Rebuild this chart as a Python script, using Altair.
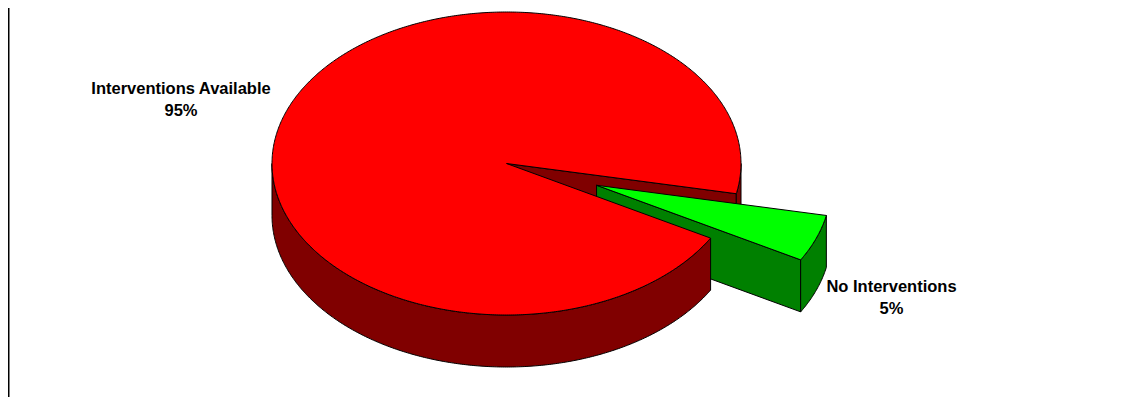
import math
import altair as alt
import pandas as pd

# ---- data ----
slice_names = ["No Interventions", "Interventions Available"]
slice_shares = [5, 95]
slice_pct_text = ["5%", "95%"]
top_colors = ["#00FF00", "#FF0000"]
side_colors = ["#008000", "#800000"]
exploded = [True, False]

# ---- layout (page pixel coordinates) ----
MARGIN = 8
W, H = 1133 - 2 * MARGIN, 405 - 2 * MARGIN
CX, CY = 506.5, 163.5      # centre of top ellipse
RX, RY = 234.5, 151.5      # radii of top ellipse
DEPTH = 52                 # thickness of the pie
START_DEG = 11.5           # parametric angle where first slice begins (clockwise on screen)
EXPLODE = 0.41             # explode distance as fraction of radius
label_pos = {              # centre x, baseline y of the label's first line
    "No Interventions": (891.5, 291.5),
    "Interventions Available": (181.0, 94.0),
}
LINE_GAP = 22
FONT = "Liberation Sans"
FONT_SIZE = 16.5


def pt(t_deg, off, z=0.0):
    t = math.radians(t_deg)
    return [CX + off[0] + RX * math.cos(t), CY + off[1] + RY * math.sin(t) + z]


def arc(a0, a1, off, z=0.0):
    n = max(2, int(abs(a1 - a0) / 0.5) + 1)
    return [pt(a0 + (a1 - a0) * i / (n - 1), off, z) for i in range(n)]


def poly(ring, fill, name):
    ring = ring + [ring[0]]
    return {"type": "Feature", "properties": {"fill": fill, "name": name},
            "geometry": {"type": "Polygon", "coordinates": [ring]}}


total = sum(slice_shares)
slices = []
cum = 0
for name, share, tc, sc, ex in zip(slice_names, slice_shares, top_colors, side_colors, exploded):
    a0 = START_DEG + 360 * cum / total
    a1 = START_DEG + 360 * (cum + share) / total
    cum += share
    midd = (a0 + a1) / 2
    mid = math.radians(midd)
    off = (EXPLODE * RX * math.cos(mid), EXPLODE * RY * math.sin(mid)) if ex else (0.0, 0.0)
    slices.append(dict(name=name, a0=a0, a1=a1, mid=midd, top=tc, side=sc, ex=ex, off=off))


def radius_faces(s):
    out = []
    c = [CX + s["off"][0], CY + s["off"][1]]
    for a, vis in ((s["a0"], math.cos(math.radians(s["a0"])) < 0),
                   (s["a1"], math.cos(math.radians(s["a1"])) > 0)):
        if vis:
            o = pt(a, s["off"])
            ring = [c, o, [o[0], o[1] + DEPTH], [c[0], c[1] + DEPTH]]
            out.append(poly(ring, s["side"], s["name"]))
    return out


def outer_bands(s):
    out = []
    for k in (-360, 0, 360):
        lo, hi = max(s["a0"], k), min(s["a1"], k + 180)
        if hi > lo:
            top = arc(lo, hi, s["off"])
            bot = arc(hi, lo, s["off"], DEPTH)
            depth_key = math.sin(math.radians((lo + hi) / 2))
            out.append((depth_key, poly(top + bot, s["side"], s["name"])))
    return out


def top_face(s):
    c = [CX + s["off"][0], CY + s["off"][1]]
    return poly([c] + arc(s["a0"], s["a1"], s["off"]), s["top"], s["name"])


ex_keys = [math.sin(math.radians(s["mid"])) for s in slices if s["ex"]]
ex_key = min(ex_keys) if ex_keys else 2.0

feats = []
# back: cut faces and rear side bands of the un-exploded pie
for s in slices:
    if not s["ex"]:
        feats += radius_faces(s)
        feats += [f for k, f in outer_bands(s) if k < ex_key]
# exploded slice sides
for s in slices:
    if s["ex"]:
        feats += radius_faces(s) + [f for k, f in outer_bands(s)]
# front side bands and top of the un-exploded pie
for s in slices:
    if not s["ex"]:
        feats += [f for k, f in outer_bands(s) if k >= ex_key]
        feats.append(top_face(s))
# exploded tops
for s in slices:
    if s["ex"]:
        feats.append(top_face(s))

proj = dict(type="identity", scale=1, translate=[-MARGIN, -MARGIN])

pie = alt.Chart(alt.Data(values=feats)).mark_geoshape(
    stroke="black", strokeWidth=1
).encode(
    color=alt.Color("properties.fill:N", scale=None)
).project(**proj)

rows = []
for name, pct in zip(slice_names, slice_pct_text):
    x, y = label_pos[name]
    rows.append({"lon": x, "lat": y, "txt": name})
    rows.append({"lon": x, "lat": y + LINE_GAP, "txt": pct})
labels = alt.Chart(pd.DataFrame(rows)).mark_text(
    font=FONT, fontSize=FONT_SIZE, fontWeight="bold", color="black",
    align="center", baseline="alphabetic"
).encode(
    longitude="lon:Q", latitude="lat:Q", text="txt:N"
).project(**proj)

border = alt.Chart(pd.DataFrame({"v": [0]})).mark_rule(
    color="black", strokeWidth=2
).encode(x=alt.value(0.5), y=alt.value(0), y2=alt.value(H))

chart = alt.layer(pie, labels, border).properties(
    width=W, height=H, padding=0, autosize="none", background="white"
).configure_view(stroke=None)

chart.save("out.html", embed_options={"renderer": "svg", "actions": False})
